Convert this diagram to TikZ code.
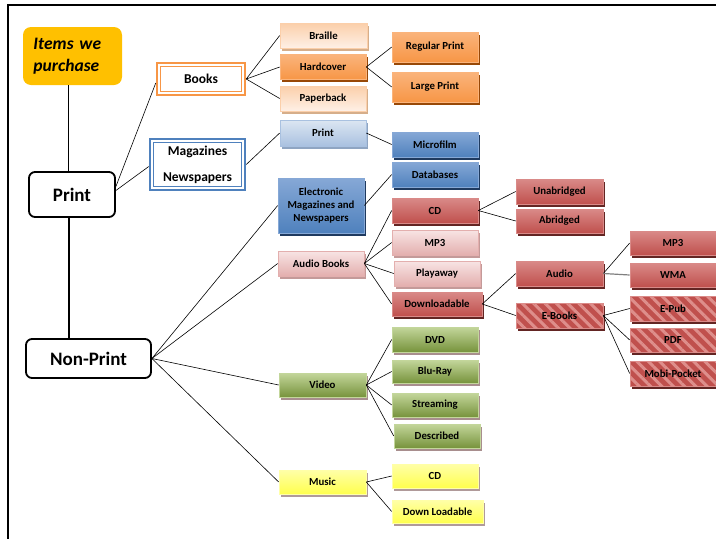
\documentclass[tikz,border=0pt]{standalone}
\usepackage{fontspec}
\setmainfont{Carlito}
\usetikzlibrary{shadows,patterns.meta}
\definecolor{orM}{HTML}{F79646}
\definecolor{orT}{HTML}{FAB47C}
\definecolor{orS}{HTML}{984806}
\definecolor{loT}{HTML}{FBCFAA}
\definecolor{loB}{HTML}{FEF0E6}
\definecolor{loS}{HTML}{D6AE8A}
\definecolor{blM}{HTML}{4F81BD}
\definecolor{blT}{HTML}{86A8D6}
\definecolor{blS}{HTML}{1F3A5F}
\definecolor{lbT}{HTML}{DCE6F2}
\definecolor{lbB}{HTML}{A9C1E0}
\definecolor{lbS}{HTML}{8FA5C2}
\definecolor{rdM}{HTML}{C0504D}
\definecolor{rdT}{HTML}{D98A88}
\definecolor{rdS}{HTML}{632523}
\definecolor{pkT}{HTML}{F8E4E4}
\definecolor{pkB}{HTML}{E3AFAE}
\definecolor{pkS}{HTML}{C49A99}
\definecolor{grT}{HTML}{C3D69B}
\definecolor{grB}{HTML}{77933C}
\definecolor{grS}{HTML}{A88E8E}
\definecolor{ylT}{HTML}{FFFFA8}
\definecolor{ylB}{HTML}{FFFF4D}
\definecolor{ylS}{HTML}{B09A9A}
\definecolor{itm}{HTML}{FFC000}
\definecolor{hatch}{HTML}{DE8E8B}
\tikzset{
  bx/.style={rectangle, inner sep=1pt, align=center, text=black,
    font=\bfseries\fontsize{10.8}{13}\selectfont,
    minimum width=86pt, minimum height=25pt, line width=0.6pt},
  shd/.style={drop shadow={shadow xshift=2pt, shadow yshift=-2.5pt, fill=#1, opacity=1}},
  orbox/.style={bx, draw=orT, top color=orT, bottom color=orM, shd=orS},
  lobox/.style={bx, draw=loT, top color=loT, bottom color=loB, shd=loS},
  blbox/.style={bx, draw=blT, top color=blT, bottom color=blM, shd=blS},
  lbbox/.style={bx, draw=lbB, top color=lbT, bottom color=lbB, shd=lbS},
  rdbox/.style={bx, draw=rdT, top color=rdT, bottom color=rdM, shd=rdS},
  pkbox/.style={bx, draw=pkB, top color=pkT, bottom color=pkB, shd=pkS},
  grbox/.style={bx, draw=grT, top color=grT, bottom color=grB, shd=grS},
  ylbox/.style={bx, draw=ylT, top color=ylT, bottom color=ylB, shd=ylS},
  htbox/.style={bx, draw=rdT, fill=rdM, shd=rdS,
    postaction={pattern color=hatch, pattern={Lines[angle=-45,distance=8pt,line width=3pt]}}},
  ln/.style={line width=0.6pt, black},
  trunk/.style={line width=1.5pt, black},
  dblbox/.style={rectangle, draw=#1, line width=2.5pt, fill=white, inner sep=1pt, align=center,
    font=\bfseries\fontsize{13.5}{26}\selectfont},
  mainbox/.style={rectangle, rounded corners=6pt, draw=black, line width=1.8pt, fill=white,
    font=\bfseries\fontsize{19}{22}\selectfont, inner sep=0pt}
}
\begin{document}
\begin{tikzpicture}[x=1pt,y=-1pt]
\useasboundingbox (0,0) rectangle (716,539);
% frame
\draw[line width=2pt] (7,5) -- (716,5);
\draw[line width=1.8pt] (8,5) -- (8,539);

% main nodes
\node[rectangle, rounded corners=8pt, fill=itm, minimum width=99pt, minimum height=58pt,
  font=\bfseries\itshape\fontsize{17.5}{22}\selectfont, text width=78pt, align=left, inner sep=0pt]
  (items) at (72.5,56) {Items we\\purchase};
\node[mainbox, minimum width=86pt, minimum height=45pt] (print) at (72,194.5) {Print\hspace{20pt}};
\node[mainbox, minimum width=125pt, minimum height=39pt] (nonprint) at (88.5,358.5) {Non-Print};

\node[dblbox=orM, minimum width=88pt, minimum height=32pt] (books) at (201,79) {Books};
\draw[orM, line width=0.8pt] ([shift={(4.5pt,4.5pt)}]books.south west) rectangle ([shift={(-4.5pt,-4.5pt)}]books.north east);
\node[dblbox=blM, minimum width=95pt, minimum height=51pt] (mags) at (197.5,164.5) {Magazines\\Newspapers};
\draw[blM, line width=0.8pt] ([shift={(4.5pt,4.5pt)}]mags.south west) rectangle ([shift={(-4.5pt,-4.5pt)}]mags.north east);

% books branch
\node[lobox, minimum width=87pt] (braille) at (323.5,35.5) {Braille};
\node[orbox] (hard) at (323,67) {Hardcover};
\node[lobox] (paper) at (323,98.5) {Paperback};
\node[orbox, minimum height=30pt] (regp) at (435,47) {Regular Print};
\node[orbox, minimum height=30pt] (largep) at (435,87) {Large Print};

% magazines branch
\node[lbbox, minimum height=26pt] (printsub) at (323,133) {Print};
\node[blbox] (micro) at (435,144.5) {Microfilm};
\node[blbox] (datab) at (435,174.5) {Databases};
\node[blbox, minimum height=55pt] (elec) at (321,205.5) {Electronic\\Magazines and\\Newspapers};

% audio books
\node[pkbox] (audiob) at (321,263.5) {Audio Books};
\node[rdbox] (cd) at (435,210.5) {CD};
\node[pkbox] (mp3) at (435,242.5) {MP3};
\node[pkbox] (playaway) at (437,273.5) {Playaway};
\node[rdbox, minimum width=90pt, minimum height=24pt] (downl) at (437,304) {Downloadable};
\node[rdbox, minimum width=87pt] (unab) at (559.5,191.5) {Unabridged};
\node[rdbox, minimum width=87pt, minimum height=24pt] (abr) at (559.5,221) {Abridged};
\node[rdbox, minimum width=87pt] (audio) at (559.5,273.5) {Audio};
\node[htbox, minimum width=87pt] (ebooks) at (559.5,315.5) {E-Books};
\node[rdbox, minimum height=24pt] (mp3r) at (673,243) {MP3};
\node[rdbox, minimum height=24pt] (wma) at (673,275) {WMA};
\node[htbox] (epub) at (673,308.5) {E-Pub};
\node[htbox, minimum height=24pt] (pdf) at (673,340) {PDF};
\node[htbox] (mobi) at (673,373.5) {Mobi-Pocket};

% video
\node[grbox, minimum width=87pt, minimum height=24pt] (video) at (322.5,385) {Video};
\node[grbox] (dvd) at (435,339.5) {DVD};
\node[grbox, minimum height=23pt] (bluray) at (435,371.5) {Blu-Ray};
\node[grbox, minimum height=24pt] (stream) at (435,405) {Streaming};
\node[grbox, minimum height=24pt] (descr) at (437,436) {Described};

% music
\node[ylbox, minimum width=87pt, minimum height=24pt] (music) at (322.5,482) {Music};
\node[ylbox, minimum height=24pt] (cdm) at (435,476) {CD};
\node[ylbox, minimum width=91pt, minimum height=23pt] (downm) at (437.5,511.5) {Down Loadable};

% connectors
\draw[trunk] ([xshift=-4pt]items.south) -- ([xshift=-4pt]items.south |- print.north);
\draw[trunk] ([xshift=-3pt]print.south) -- ([xshift=-3pt]print.south |- nonprint.north);
\draw[ln] ([yshift=8pt]print.east) -- ([yshift=-4pt]books.west);
\draw[ln] ([yshift=4pt]print.east) -- ([yshift=-2pt]mags.west);
\foreach \c in {braille,hard,paper} \draw[ln] (books.east) -- (\c.west);
\foreach \c in {regp,largep} \draw[ln] (hard.east) -- (\c.west);
\draw[ln] (mags.east) -- (printsub.west);
\draw[ln] (printsub.east) -- (micro.west);
\draw[ln] (elec.east) -- (datab.west);
\foreach \c in {elec,audiob,video,music} \draw[ln] (nonprint.east) -- (\c.west);
\foreach \c in {cd,mp3,playaway,downl} \draw[ln] (audiob.east) -- (\c.west);
\foreach \c in {unab,abr} \draw[ln] (cd.east) -- (\c.west);
\foreach \c in {audio,ebooks} \draw[ln] (downl.east) -- (\c.west);
\draw[ln] (audio.east) -- (mp3r.west);
\draw[line width=1.2pt, gray] (audio.east) -- (wma.west);
\foreach \c in {epub,pdf,mobi} \draw[ln] (ebooks.east) -- (\c.west);
\foreach \c in {dvd,bluray,stream,descr} \draw[ln] (video.east) -- (\c.west);
\foreach \c in {cdm,downm} \draw[ln] (music.east) -- (\c.west);
\end{tikzpicture}
\end{document}
